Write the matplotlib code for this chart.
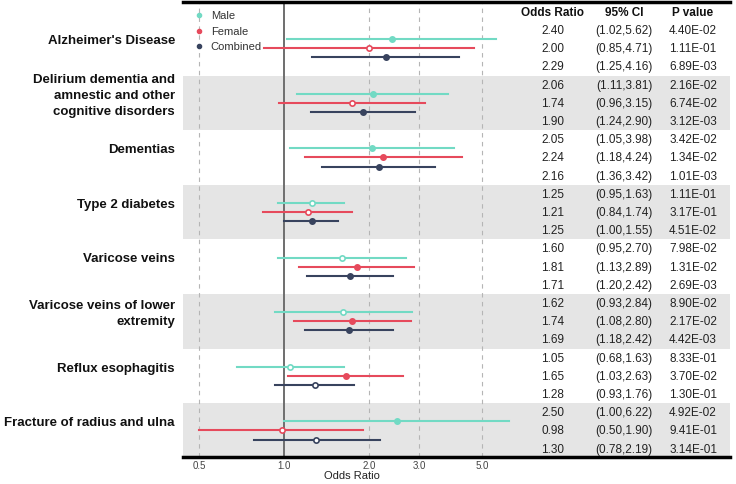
import matplotlib
matplotlib.use("Agg")
import matplotlib.pyplot as plt
from matplotlib.lines import Line2D

plt.rcParams['font.family'] = ['Liberation Sans', 'DejaVu Sans']

# Data
groups = ["Alzheimer's Disease",
          "Delirium dementia and\namnestic and other\ncognitive disorders",
          "Dementias",
          "Type 2 diabetes",
          "Varicose veins",
          "Varicose veins of lower\nextremity",
          "Reflux esophagitis",
          "Fracture of radius and ulna"]
series = ["Male", "Female", "Combined"]

odds = [[2.40, 2.00, 2.29], [2.06, 1.74, 1.90], [2.05, 2.24, 2.16], [1.25, 1.21, 1.25],
        [1.60, 1.81, 1.71], [1.62, 1.74, 1.69], [1.05, 1.65, 1.28], [2.50, 0.98, 1.30]]
ci_low = [[1.02, 0.85, 1.25], [1.11, 0.96, 1.24], [1.05, 1.18, 1.36], [0.95, 0.84, 1.00],
          [0.95, 1.13, 1.20], [0.93, 1.08, 1.18], [0.68, 1.03, 0.93], [1.00, 0.50, 0.78]]
ci_high = [[5.62, 4.71, 4.16], [3.81, 3.15, 2.90], [3.98, 4.24, 3.42], [1.63, 1.74, 1.55],
           [2.70, 2.89, 2.42], [2.84, 2.80, 2.42], [1.63, 2.63, 1.76], [6.22, 1.90, 2.19]]
p_vals = [[4.40e-02, 1.11e-01, 6.89e-03], [2.16e-02, 6.74e-02, 3.12e-03],
          [3.42e-02, 1.34e-02, 1.01e-03], [1.11e-01, 3.17e-01, 4.51e-02],
          [7.98e-02, 1.31e-02, 2.69e-03], [8.90e-02, 2.17e-02, 4.42e-03],
          [8.33e-01, 3.70e-02, 1.30e-01], [4.92e-02, 9.41e-01, 3.14e-01]]
xticks = [0.5, 1.0, 2.0, 3.0, 5.0]

colors = ['#72dac4', '#e64a5c', '#38435e']
band_color = '#e5e5e5'

W, H = 736, 484
fig = plt.figure(figsize=(W / 100, H / 100), dpi=100)

# pixel layout
left, mid, right = 183, 520, 730
top, bottom = 1, 457
row0, pitch = 31, 18.2
ylim = ((bottom - row0) / pitch, (top - row0) / pitch)

ax = fig.add_axes([left / W, (H - bottom) / H, (mid - left) / W, (bottom - top) / H])
tab = fig.add_axes([mid / W, (H - bottom) / H, (right - mid) / W, (bottom - top) / H])

for a in (ax, tab):
    a.set_ylim(*ylim)
    for s in a.spines.values():
        s.set_visible(False)

# shaded bands on every other group
for g in range(len(groups)):
    if g % 2 == 1:
        for a in (ax, tab):
            a.axhspan(3 * g - 0.55, 3 * g + 2.45, color=band_color, lw=0, zorder=0)

# forest plot
ax.set_xscale('log')
ax.set_xlim(0.438, 6.83)
for t in xticks:
    if t != 1.0:
        ax.axvline(t, color='#b5b5b5', lw=0.8, ls=(0, (4, 4)), zorder=1)
ax.axvline(1.0, color='#6e6e6e', lw=1.4, zorder=2)

offsets = [-0.55, -0.05, 0.45]
for g in range(len(groups)):
    center = 3 * g + 1
    for k in range(3):
        y = center + offsets[k]
        ax.plot([ci_low[g][k], ci_high[g][k]], [y, y], color=colors[k], lw=1.5, zorder=3)
        face = colors[k] if p_vals[g][k] < 0.05 else 'white'
        ax.plot(odds[g][k], y, 'o', ms=3.8, mfc=face, mec=colors[k], mew=1.2, zorder=4)
    ax.text(-0.024, center - 0.45, groups[g], transform=ax.get_yaxis_transform(),
            ha='right', va='center', fontsize=9.5, fontweight='bold', color='#111111',
            linespacing=1.45)

ax.set_xticks(xticks)
ax.set_xticklabels([f"{t:.1f}" for t in xticks])
ax.minorticks_off()
ax.tick_params(axis='x', length=0, labelsize=7, colors='#444444', pad=3)
ax.set_yticks([])
ax.set_xlabel("Odds Ratio", fontsize=8, color='#222222', labelpad=0)

handles = [Line2D([], [], marker='o', ls='none', ms=3, color=c) for c in colors]
ax.legend(handles, series, loc='upper left', bbox_to_anchor=(0.0, 1.0), frameon=False,
          fontsize=8, labelspacing=0.5, handletextpad=0.6, handlelength=1.0,
          labelcolor='#333333')

# table
tab.set_xlim(0, 1)
tab.set_xticks([])
tab.set_yticks([])
col_x = [0.157, 0.495, 0.824]
headers = ["Odds Ratio", "95% CI", "P value"]
for x, h in zip(col_x, headers):
    tab.text(x, -1.0, h, ha='center', va='center', fontsize=8.5, fontweight='bold', color='#111111')
for g in range(len(groups)):
    for k in range(3):
        r = 3 * g + k
        tab.text(col_x[0], r, f"{odds[g][k]:.2f}", ha='center', va='center', fontsize=8.5, color='#222222')
        tab.text(col_x[1], r, f"({ci_low[g][k]:.2f},{ci_high[g][k]:.2f})", ha='center', va='center',
                 fontsize=8.5, color='#222222')
        tab.text(col_x[2], r, f"{p_vals[g][k]:.2E}", ha='center', va='center', fontsize=8.5, color='#222222')

# thick rules on top and bottom
for py in (top + 0.5, bottom):
    fig.add_artist(Line2D([left / W, right / W], [(H - py) / H] * 2, color='black', lw=2.5))

fig.savefig("out.png", dpi=100)
